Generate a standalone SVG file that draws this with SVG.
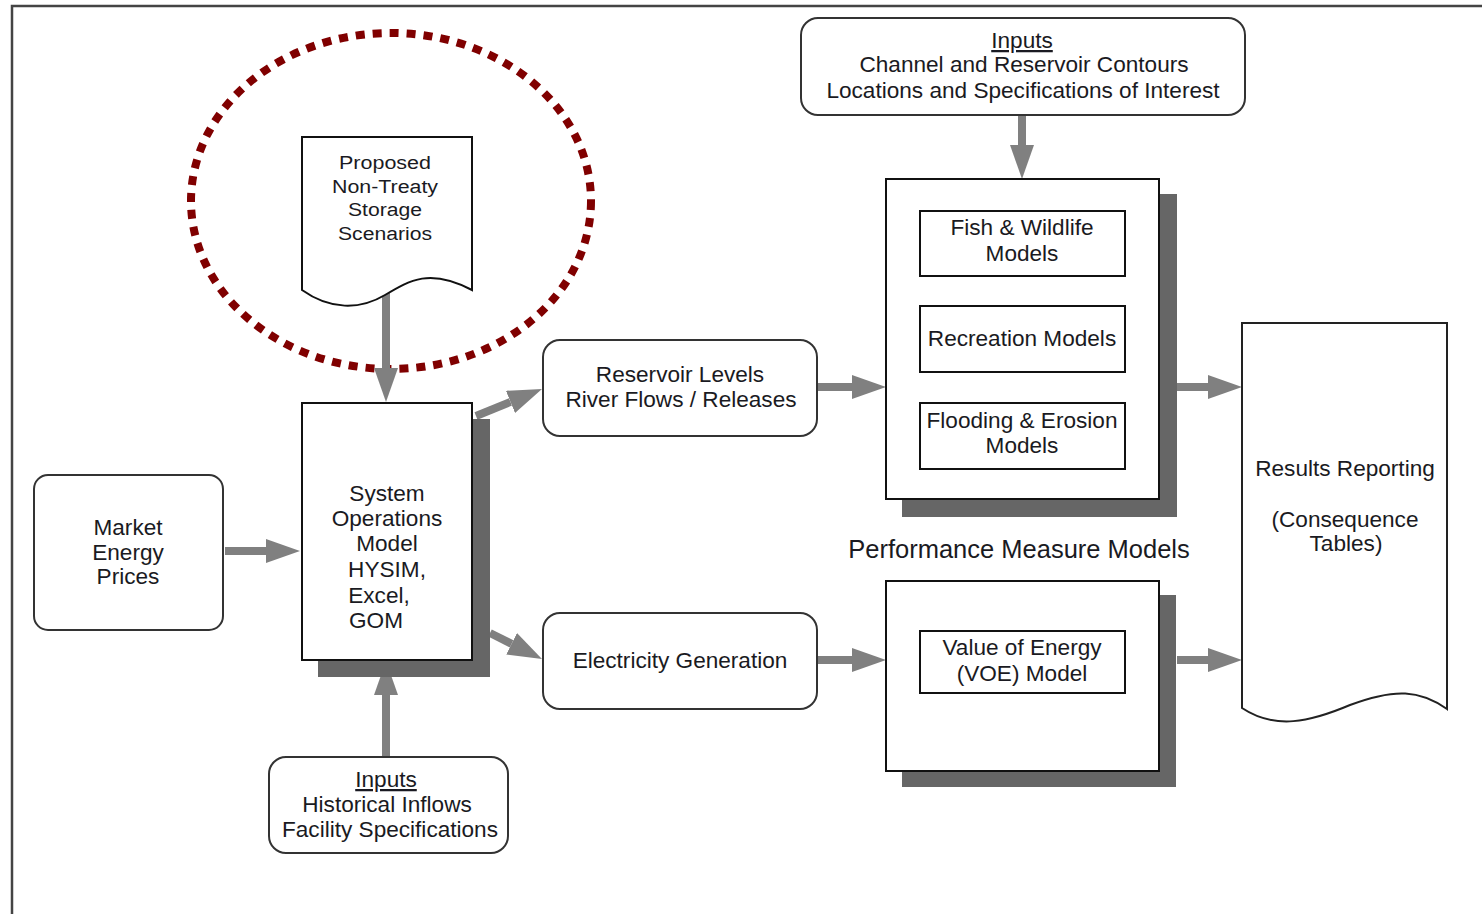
<svg xmlns="http://www.w3.org/2000/svg" width="1482" height="914" viewBox="0 0 1482 914">
<defs>
<marker id="ah" markerUnits="userSpaceOnUse" markerWidth="34" markerHeight="24" refX="0" refY="12" orient="auto" viewBox="0 0 34 24">
<path d="M0,0 L34,12 L0,24 Z" fill="#808080"/>
</marker>
<style>
text{font-family:"Liberation Sans",Arial,sans-serif;fill:#1a1a22;text-anchor:middle}
.t{font-size:22.6px}
.d{font-size:18px}
.big{font-size:25.5px}
.u{text-decoration:underline}
.rr{fill:#fff;stroke:#333;stroke-width:2}
.bx{fill:#fff;stroke:#111;stroke-width:2}
.ib{fill:#fff;stroke:#111;stroke-width:2}
.sh{fill:#666}
.doc{fill:#fff;stroke:#111;stroke-width:2}
.con line{stroke:#808080;stroke-width:8;marker-end:url(#ah)}
</style>
</defs>
<rect width="1482" height="914" fill="#fff"/>
<g id="frame" fill="none" stroke="#444" stroke-width="2.5">
<path d="M12,914 V6 H1482"/>
</g>
<g id="highlight">
<ellipse cx="391" cy="201" rx="200" ry="168" fill="none" stroke="#800000" stroke-width="8" stroke-dasharray="9 8"/>
</g>
<g id="connectors" class="con">
<line x1="386" y1="292" x2="386" y2="368"/>
<line x1="225" y1="551" x2="266" y2="551"/>
<line x1="386" y1="757" x2="386" y2="695"/>
<line x1="476" y1="416" x2="510.5" y2="401.9"/>
<line x1="490" y1="633" x2="511.6" y2="643.8"/>
<line x1="818" y1="387" x2="852" y2="387"/>
<line x1="818" y1="660" x2="852" y2="660"/>
<line x1="1022" y1="115" x2="1022" y2="145"/>
<line x1="1177" y1="387" x2="1208" y2="387"/>
<line x1="1177" y1="660" x2="1208" y2="660"/>
</g>
<g id="proposed">
<path class="doc" d="M302,290 V137 H472 V290 C430,268 410,280 385,295 C360,310 330,310 302,290 Z"/>
<text class="d" x="385" y="169" textLength="92" lengthAdjust="spacingAndGlyphs">Proposed</text>
<text class="d" x="385" y="193" textLength="106" lengthAdjust="spacingAndGlyphs">Non-Treaty</text>
<text class="d" x="385" y="216" textLength="74" lengthAdjust="spacingAndGlyphs">Storage</text>
<text class="d" x="385" y="240" textLength="94" lengthAdjust="spacingAndGlyphs">Scenarios</text>
</g>
<g id="market">
<rect class="rr" x="34" y="475" width="189" height="155" rx="14"/>
<text class="t" x="128" y="535">Market</text>
<text class="t" x="128" y="560">Energy</text>
<text class="t" x="128" y="584">Prices</text>
</g>
<g id="sysops">
<rect class="sh" x="318" y="419" width="172" height="258"/>
<rect class="bx" x="302" y="403" width="170" height="257"/>
<text class="t" x="387" y="501">System</text>
<text class="t" x="387" y="526">Operations</text>
<text class="t" x="387" y="551">Model</text>
<text class="t" x="387" y="577">HYSIM,</text>
<text class="t" x="379" y="603">Excel,</text>
<text class="t" x="376" y="628">GOM</text>
</g>
<g id="inputs-hist">
<rect class="rr" x="269" y="757" width="239" height="96" rx="17"/>
<text class="t u" x="386" y="787">Inputs</text>
<text class="t" x="387" y="812">Historical Inflows</text>
<text class="t" x="390" y="837">Facility Specifications</text>
</g>
<g id="reservoir">
<rect class="rr" x="543" y="340" width="274" height="96" rx="17"/>
<text class="t" x="680" y="382">Reservoir Levels</text>
<text class="t" x="681" y="407">River Flows / Releases</text>
</g>
<g id="electricity">
<rect class="rr" x="543" y="613" width="274" height="96" rx="17"/>
<text class="t" x="680" y="668">Electricity Generation</text>
</g>
<g id="inputs-top">
<rect class="rr" x="801" y="18" width="444" height="97" rx="17"/>
<text class="t u" x="1022" y="48">Inputs</text>
<text class="t" x="1024" y="72">Channel and Reservoir Contours</text>
<text class="t" x="1023" y="98">Locations and Specifications of Interest</text>
</g>
<g id="env-models">
<rect class="sh" x="902" y="194" width="275" height="323"/>
<rect class="bx" x="886" y="179" width="273" height="320"/>
<rect class="ib" x="920" y="211" width="205" height="65"/>
<text class="t" x="1022" y="235">Fish &amp; Wildlife</text>
<text class="t" x="1022" y="261">Models</text>
<rect class="ib" x="920" y="306" width="205" height="66"/>
<text class="t" x="1022" y="346">Recreation Models</text>
<rect class="ib" x="920" y="403" width="205" height="66"/>
<text class="t" x="1022" y="428">Flooding &amp; Erosion</text>
<text class="t" x="1022" y="453">Models</text>
</g>
<g id="pm-label">
<text class="big" x="1019" y="558">Performance Measure Models</text>
</g>
<g id="voe">
<rect class="sh" x="902" y="595" width="274" height="192"/>
<rect class="bx" x="886" y="581" width="273" height="190"/>
<rect class="ib" x="920" y="631" width="205" height="62"/>
<text class="t" x="1022" y="655">Value of Energy</text>
<text class="t" x="1022" y="681">(VOE) Model</text>
</g>
<g id="results">
<path d="M1242,708 V323 H1447 V709 C1420,690 1395,688 1350,705 C1310,722 1275,730 1242,708 Z" fill="#fff" stroke="#222" stroke-width="2"/>
<text class="t" x="1345" y="476">Results Reporting</text>
<text class="t" x="1345" y="527">(Consequence</text>
<text class="t" x="1346" y="551">Tables)</text>
</g>
</svg>
